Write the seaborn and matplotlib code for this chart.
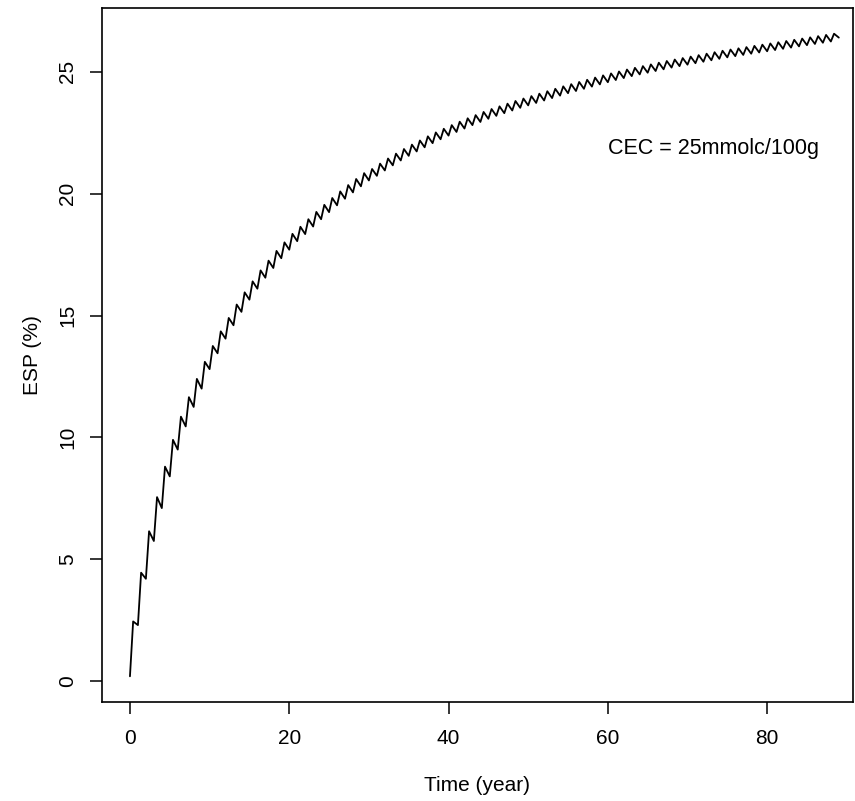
import matplotlib
matplotlib.use("Agg")
import matplotlib.pyplot as plt
import pandas as pd
import seaborn as sns

# Year index of each irrigation cycle
years = list(range(89))

# ESP at the start of each year (seasonal low)
esp_low = [
    0.2, 2.3, 4.2, 5.75, 7.1, 8.4, 9.5, 10.45, 11.25, 12.0,
    12.8, 13.45, 14.05, 14.6, 15.15, 15.65, 16.1, 16.55, 16.95, 17.35,
    17.7, 18.05, 18.34, 18.65, 18.95, 19.24, 19.52, 19.79, 20.05, 20.3,
    20.54, 20.73, 20.95, 21.16, 21.36, 21.55, 21.73, 21.9, 22.07, 22.23,
    22.38, 22.53, 22.67, 22.81, 22.94, 23.07, 23.19, 23.3, 23.41, 23.52,
    23.62, 23.72, 23.82, 23.92, 24.02, 24.12, 24.21, 24.3, 24.39, 24.48,
    24.57, 24.66, 24.74, 24.82, 24.89, 24.96, 25.03, 25.1, 25.17, 25.23,
    25.29, 25.35, 25.41, 25.47, 25.53, 25.59, 25.64, 25.69, 25.74, 25.79,
    25.84, 25.89, 25.94, 25.99, 26.04, 26.09, 26.14, 26.19, 26.24,
]

# ESP at the seasonal peak of each year
esp_high = [
    2.45, 4.45, 6.15, 7.55, 8.8, 9.9, 10.85, 11.65, 12.4, 13.1,
    13.75, 14.35, 14.9, 15.45, 15.95, 16.4, 16.85, 17.25, 17.65, 18.0,
    18.35, 18.64, 18.95, 19.25, 19.54, 19.82, 20.09, 20.35, 20.6, 20.84,
    21.01, 21.23, 21.44, 21.64, 21.83, 22.01, 22.18, 22.35, 22.51, 22.66,
    22.81, 22.95, 23.09, 23.22, 23.35, 23.47, 23.58, 23.69, 23.8, 23.9,
    24.0, 24.1, 24.2, 24.3, 24.4, 24.49, 24.58, 24.67, 24.76, 24.85,
    24.93, 25.01, 25.09, 25.16, 25.23, 25.3, 25.37, 25.44, 25.5, 25.56,
    25.62, 25.68, 25.74, 25.8, 25.86, 25.91, 25.96, 26.01, 26.06, 26.11,
    26.16, 26.21, 26.26, 26.31, 26.36, 26.41, 26.46, 26.51, 26.56,
]

# Final value at the end of the simulation
end_year = 89
end_esp = 26.4

peak_offset = 0.4  # fraction of the year at which the seasonal peak occurs

t, v = [], []
for yr, lo, hi in zip(years, esp_low, esp_high):
    t += [yr, yr + peak_offset]
    v += [lo, hi]
t.append(end_year)
v.append(end_esp)
df = pd.DataFrame({"time": t, "esp": v})

sns.set_theme(style="white")
plt.rcParams["font.family"] = ["Liberation Sans", "DejaVu Sans"]

W, H = 855, 801
fig = plt.figure(figsize=(W / 100, H / 100), dpi=100)
left, right, top, bottom = 101.6, 853, 8, 702
ax = fig.add_axes([left / W, 1 - bottom / H, (right - left) / W, (bottom - top) / H])

sns.lineplot(data=df, x="time", y="esp", sort=False, estimator=None,
             color="black", linewidth=1.3, ax=ax)

# 4% padding below/left of the data, a little less on the right
xr = (min(t), max(t))
yr_ = (min(v), max(v))
dx = (xr[1] - xr[0]) * 0.04
dy = (yr_[1] - yr_[0]) * 0.04
ax.set_xlim(xr[0] - dx, xr[1] + 0.5 * dx)
ax.set_ylim(yr_[0] - dy, yr_[1] + dy)

ax.set_xticks([0, 20, 40, 60, 80])
ax.set_yticks([0, 5, 10, 15, 20, 25])
ax.set_yticklabels(["0", "5", "10", "15", "20", "25"], rotation=90, va="center")

for s in ax.spines.values():
    s.set_color("black")
    s.set_linewidth(1.2)

ax.tick_params(axis="both", direction="out", length=8.5, width=1.1,
               color="black", labelsize=15, labelcolor="black",
               bottom=True, left=True)
ax.tick_params(axis="x", pad=11)
ax.tick_params(axis="y", pad=9)

ax.set_xlabel("Time (year)", fontsize=15, color="black", labelpad=20)
ax.set_ylabel("ESP (%)", fontsize=15, color="black", labelpad=12)

ax.text(0.955, 0.798, "CEC = 25mmolc/100g", transform=ax.transAxes,
        fontsize=15.5, color="black", ha="right", va="center")

fig.savefig("out.png", dpi=100)
